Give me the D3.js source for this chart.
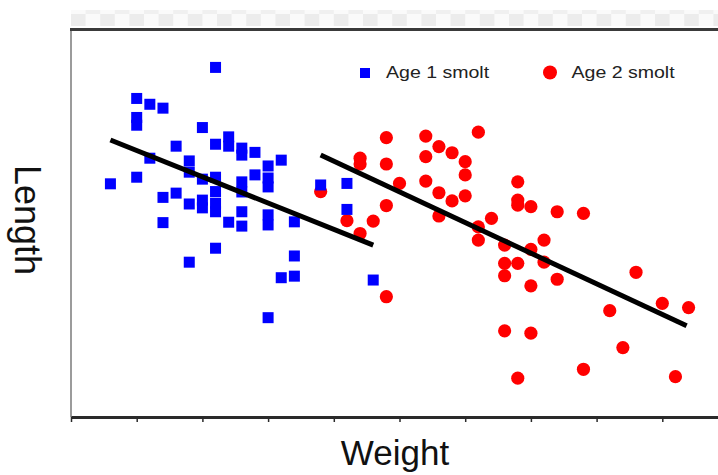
<!DOCTYPE html>
<html>
<head>
<meta charset="utf-8">
<script src="https://cdn.jsdelivr.net/npm/d3@7"></script>
<style>
  body { margin: 0; background: #fff; }
  svg { display: block; font-family: "Liberation Sans", Arial, sans-serif; }
</style>
</head>
<body>
<script>
// Age 1 smolt (blue squares): weight, length
const age1Weight = [22, 10, 12, 14, 10, 10, 20, 16, 22, 24, 24, 26, 26, 28, 32, 12, 18, 18, 10, 6,
  20, 22, 26, 26, 28, 30, 30, 30, 14, 16, 18, 20, 20, 22, 22, 22, 26, 24, 26, 30,
  30, 34, 14, 22, 18, 34, 32, 34, 30, 38, 42, 42, 46];
const age1Length = [90.1, 82.1, 80.6, 79.6, 77.2, 75.2, 74.6, 69.8, 70.3, 72.2, 69.8, 69.3, 67.5, 68.2, 66.2, 66.7, 66.0, 63.1, 61.8, 60.1,
  61.3, 61.8, 60.6, 58.0, 62.4, 64.7, 61.6, 59.3, 56.6, 57.7, 54.9, 55.9, 53.9, 58.1, 55.1, 52.9, 52.9, 50.2, 49.2, 52.1,
  49.5, 50.3, 50.1, 43.5, 39.9, 41.5, 35.9, 36.3, 25.6, 59.8, 60.2, 53.5, 35.3];

// Age 2 smolt (red circles): weight, length
const age2Weight = [48, 44, 44, 48, 50, 48, 42, 46, 44, 48, 38, 54, 62, 56, 58, 54, 60, 54, 60, 56,
  58, 60, 56, 68, 68, 68, 70, 74, 78, 64, 62, 62, 66, 70, 72, 66, 68, 66, 72, 70,
  74, 86, 82, 90, 94, 66, 70, 84, 78, 68, 92];
const age2Length = [72.0, 66.7, 65.2, 65.2, 60.2, 54.5, 50.6, 50.5, 47.3, 31.0, 58.1, 72.4, 73.4, 69.7, 68.1, 67.1, 65.8, 60.8, 62.4, 57.8,
  55.7, 57.0, 51.8, 60.6, 55.9, 54.6, 54.2, 52.9, 52.5, 51.2, 49.0, 45.6, 44.3, 43.2, 45.6, 39.6, 39.6, 36.4, 39.9, 33.8,
  35.5, 37.3, 27.4, 29.3, 28.2, 22.2, 21.6, 17.9, 12.3, 10.0, 10.4];

// fitted trend lines (end points)
const fit1Weight = [6, 46];
const fit1Length = [71.4, 44.3];
const fit2Weight = [38, 93.7];
const fit2Length = [67.5, 23.5];

const xTicks = [0, 10, 20, 30, 40, 50, 60, 70, 80, 90, 100];
const seriesNames = ["Age 1 smolt", "Age 2 smolt"];

const w = 718;
const h = 475;

const svg = d3.select("body").append("svg").attr("width", w).attr("height", h);

const xScale = d3.scaleLinear().domain([0, 100]).range([71, 728]);
const yScale = d3.scaleLinear().domain([0, 100]).range([417, 29]);

// checkered strip above the frame
const defs = svg.append("defs");
const pat = defs.append("pattern")
  .attr("id", "checker")
  .attr("patternUnits", "userSpaceOnUse")
  .attr("x", 71).attr("y", 10)
  .attr("width", 29.2).attr("height", 16);
pat.append("rect").attr("width", 29.2).attr("height", 16).attr("fill", "#fafafa");
pat.append("rect").attr("x", 0).attr("y", 4).attr("width", 14.6).attr("height", 12).attr("fill", "#ececec");
pat.append("rect").attr("x", 14.6).attr("y", 0).attr("width", 14.6).attr("height", 4).attr("fill", "#f0f0f0");
svg.append("rect").attr("x", 71).attr("y", 10).attr("width", w - 71).attr("height", 16)
  .attr("fill", "url(#checker)");

// frame
svg.append("line").attr("x1", 71).attr("x2", 71).attr("y1", 29).attr("y2", 417)
  .attr("stroke", "#7a7a7a").attr("stroke-width", 1.5);
svg.append("line").attr("x1", 70).attr("x2", w).attr("y1", 29.5).attr("y2", 29.5)
  .attr("stroke", "#3a3a3a").attr("stroke-width", 3);

// points: red first, blue drawn over
const age2 = age2Weight.map((d, i) => [d, age2Length[i]]);
const age1 = age1Weight.map((d, i) => [d, age1Length[i]]);

svg.append("g").selectAll("circle")
  .data(age2).enter().append("circle")
  .attr("cx", (d) => xScale(d[0]))
  .attr("cy", (d) => yScale(d[1]))
  .attr("r", 6.6)
  .attr("fill", "#ff0000");

svg.append("g").selectAll("rect")
  .data(age1).enter().append("rect")
  .attr("x", (d) => xScale(d[0]) - 5.5)
  .attr("y", (d) => yScale(d[1]) - 5.5)
  .attr("width", 11)
  .attr("height", 11)
  .attr("fill", "#0000ff");

// trend lines
const line = d3.line().x((d) => xScale(d[0])).y((d) => yScale(d[1]));
[[fit1Weight, fit1Length], [fit2Weight, fit2Length]].forEach(([xs, ys]) => {
  svg.append("path")
    .attr("d", line(xs.map((d, i) => [d, ys[i]])))
    .attr("fill", "none")
    .attr("stroke", "#000")
    .attr("stroke-width", 5);
});

// x axis (ticks only, no labels)
const xAxis = d3.axisBottom(xScale).tickValues(xTicks).tickFormat("").tickSize(5).tickSizeOuter(0);
const gx = svg.append("g").attr("transform", "translate(0, 417)").call(xAxis);
gx.select(".domain").attr("stroke", "#2a2a2a").attr("stroke-width", 3);
gx.selectAll(".tick line").attr("stroke", "#2a2a2a").attr("stroke-width", 1.5);

// legend
svg.append("rect").attr("x", 360).attr("y", 68).attr("width", 10).attr("height", 10).attr("fill", "#0000ff");
svg.append("circle").attr("cx", 550).attr("cy", 72.5).attr("r", 7).attr("fill", "#ff0000");
[[386, seriesNames[0]], [571.5, seriesNames[1]]].forEach(([lx, t]) => {
  svg.append("text")
    .attr("transform", `translate(${lx}, 78) scale(1.15, 1)`)
    .attr("font-size", 17)
    .attr("fill", "#222")
    .text(t);
});

// axis titles
svg.append("text")
  .attr("transform", "translate(395, 465)")
  .attr("text-anchor", "middle")
  .attr("font-size", 35)
  .attr("fill", "#111")
  .text("Weight");

svg.append("text")
  .attr("transform", "translate(15, 220) rotate(90)")
  .attr("text-anchor", "middle")
  .attr("font-size", 36)
  .attr("fill", "#111")
  .text("Length");
</script>
</body>
</html>
